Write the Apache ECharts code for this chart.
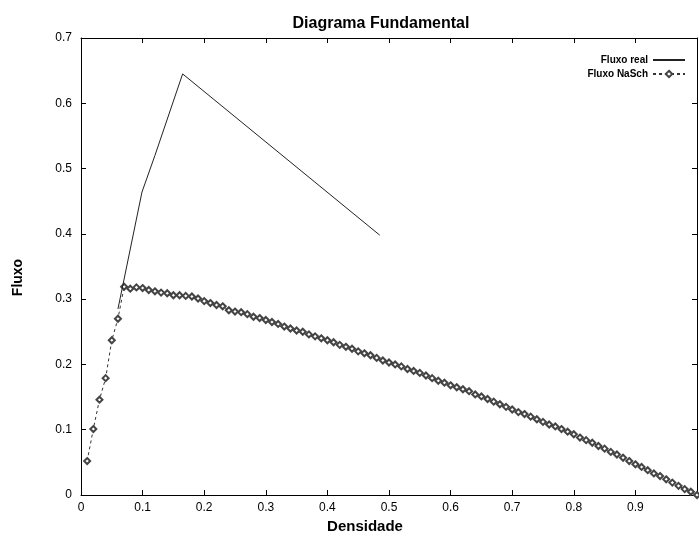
<!DOCTYPE html>
<html>
<head>
<meta charset="utf-8">
<script src="https://cdn.jsdelivr.net/npm/echarts@6/dist/echarts.min.js"></script>
<style>
	html, body { margin: 0; padding: 0; background: #fff; }
	#container { width: 699px; height: 537px; }
</style>
</head>
<body>
<div id="container"></div>
<script>
// fluxo real (curva medida)
var realDens = [0.06, 0.099, 0.12, 0.165, 0.485];
var realFlux = [0.285, 0.464, 0.52, 0.645, 0.398];

// fluxo NaSch (simulacao), densidade 0.01 .. 1.00
var nasDens = [
	0.01, 0.02, 0.03, 0.04, 0.05, 0.06, 0.07, 0.08, 0.09, 0.10,
	0.11, 0.12, 0.13, 0.14, 0.15, 0.16, 0.17, 0.18, 0.19, 0.20,
	0.21, 0.22, 0.23, 0.24, 0.25, 0.26, 0.27, 0.28, 0.29, 0.30,
	0.31, 0.32, 0.33, 0.34, 0.35, 0.36, 0.37, 0.38, 0.39, 0.40,
	0.41, 0.42, 0.43, 0.44, 0.45, 0.46, 0.47, 0.48, 0.49, 0.50,
	0.51, 0.52, 0.53, 0.54, 0.55, 0.56, 0.57, 0.58, 0.59, 0.60,
	0.61, 0.62, 0.63, 0.64, 0.65, 0.66, 0.67, 0.68, 0.69, 0.70,
	0.71, 0.72, 0.73, 0.74, 0.75, 0.76, 0.77, 0.78, 0.79, 0.80,
	0.81, 0.82, 0.83, 0.84, 0.85, 0.86, 0.87, 0.88, 0.89, 0.90,
	0.91, 0.92, 0.93, 0.94, 0.95, 0.96, 0.97, 0.98, 0.99, 1.00
];
var nasFlux = [
	0.052, 0.101, 0.146, 0.179, 0.237, 0.270, 0.319, 0.316, 0.318, 0.317,
	0.314, 0.312, 0.310, 0.309, 0.306, 0.306, 0.305, 0.304, 0.301, 0.297,
	0.294, 0.291, 0.289, 0.283, 0.281, 0.280, 0.277, 0.273, 0.271, 0.268,
	0.265, 0.262, 0.258, 0.255, 0.252, 0.250, 0.246, 0.243, 0.240, 0.237,
	0.234, 0.230, 0.227, 0.224, 0.220, 0.217, 0.214, 0.210, 0.206, 0.203,
	0.200, 0.197, 0.193, 0.190, 0.187, 0.183, 0.179, 0.175, 0.172, 0.168,
	0.165, 0.162, 0.159, 0.154, 0.151, 0.147, 0.143, 0.139, 0.135, 0.131,
	0.127, 0.124, 0.120, 0.116, 0.112, 0.108, 0.105, 0.101, 0.097, 0.093,
	0.088, 0.084, 0.080, 0.075, 0.071, 0.066, 0.062, 0.057, 0.052, 0.047,
	0.043, 0.038, 0.033, 0.029, 0.024, 0.019, 0.014, 0.009, 0.005, 0.000
];

var fonte = 'Liberation Sans';

function pares(xs, ys) {
	var out = [];
	for (var i = 0; i < xs.length; i++) {
		out.push([xs[i], ys[i]]);
	}
	return out;
}

var myChart = echarts.init(document.getElementById('container'), null, { renderer: 'canvas' });

var option = {
	backgroundColor: '#fff',
	animation: false,
	textStyle: { fontFamily: fonte, color: '#000' },
	title: {
		text: 'Diagrama Fundamental',
		left: 376,
		textAlign: 'center',
		top: 11,
		textStyle: { fontFamily: fonte, fontSize: 16, fontWeight: 'bold', color: '#000' }
	},
	legend: {
		orient: 'vertical',
		right: 8,
		top: 50,
		align: 'right',
		itemGap: 4,
		itemWidth: 32,
		itemHeight: 8,
		textStyle: { fontFamily: fonte, fontSize: 10, fontWeight: 'bold', color: '#000' },
		data: [
			{ name: 'Fluxo real', itemStyle: { opacity: 0 } },
			{ name: 'Fluxo NaSch' }
		]
	},
	grid: {
		left: 81,
		right: 2,
		top: 38,
		bottom: 42,
		outerBoundsMode: 'none'
	},
	xAxis: [{
		type: 'value',
		min: 0,
		max: 1,
		interval: 0.1,
		name: 'Densidade',
		nameLocation: 'middle',
		nameGap: 22,
		nameTextStyle: { fontFamily: fonte, fontSize: 15, fontWeight: 'bold', color: '#000', padding: [0, 48, 0, 0] },
		axisLine: { onZero: false, lineStyle: { color: '#000', width: 1 } },
		axisTick: { inside: true, length: 5, lineStyle: { color: '#000' } },
		axisLabel: {
			fontFamily: fonte, fontSize: 12, color: '#000', margin: 7,
			formatter: function(v) { return v >= 1 ? '' : String(+v.toFixed(1)); }
		},
		splitLine: { show: false }
	}, {
		type: 'value',
		position: 'top',
		min: 0,
		max: 1,
		interval: 0.1,
		axisLine: { onZero: false, lineStyle: { color: '#000', width: 1 } },
		axisTick: { inside: true, length: 5, lineStyle: { color: '#000' } },
		axisLabel: { show: false },
		splitLine: { show: false }
	}],
	yAxis: [{
		type: 'value',
		min: 0,
		max: 0.7,
		interval: 0.1,
		name: 'Fluxo',
		nameLocation: 'middle',
		nameGap: 56,
		nameTextStyle: { fontFamily: fonte, fontSize: 14, fontWeight: 'bold', color: '#000', padding: [0, 22, 0, 0] },
		axisLine: { show: true, onZero: false, lineStyle: { color: '#000', width: 1 } },
		axisTick: { show: true, inside: true, length: 5, lineStyle: { color: '#000' } },
		axisLabel: {
			fontFamily: fonte, fontSize: 12, color: '#000', margin: 9,
			formatter: function(v) { return String(+v.toFixed(1)); }
		},
		splitLine: { show: false }
	}, {
		type: 'value',
		position: 'right',
		min: 0,
		max: 0.7,
		interval: 0.1,
		axisLine: { show: true, onZero: false, lineStyle: { color: '#000', width: 1 } },
		axisTick: { show: true, inside: true, length: 5, lineStyle: { color: '#000' } },
		axisLabel: { show: false },
		splitLine: { show: false }
	}],
	series: [{
		name: 'Fluxo real',
		type: 'line',
		symbol: 'none',
		lineStyle: { color: '#222', width: 1 },
		itemStyle: { color: '#222' },
		data: pares(realDens, realFlux),
		z: 3
	}, {
		name: 'Fluxo NaSch',
		type: 'line',
		symbol: 'emptyDiamond',
		symbolSize: 6,
		showAllSymbol: true,
		lineStyle: { color: '#333', width: 1, type: [3, 3] },
		itemStyle: { color: '#444', borderColor: '#444', borderWidth: 1 },
		data: pares(nasDens, nasFlux),
		z: 2
	}]
};

myChart.setOption(option, true);
</script>
</body>
</html>
